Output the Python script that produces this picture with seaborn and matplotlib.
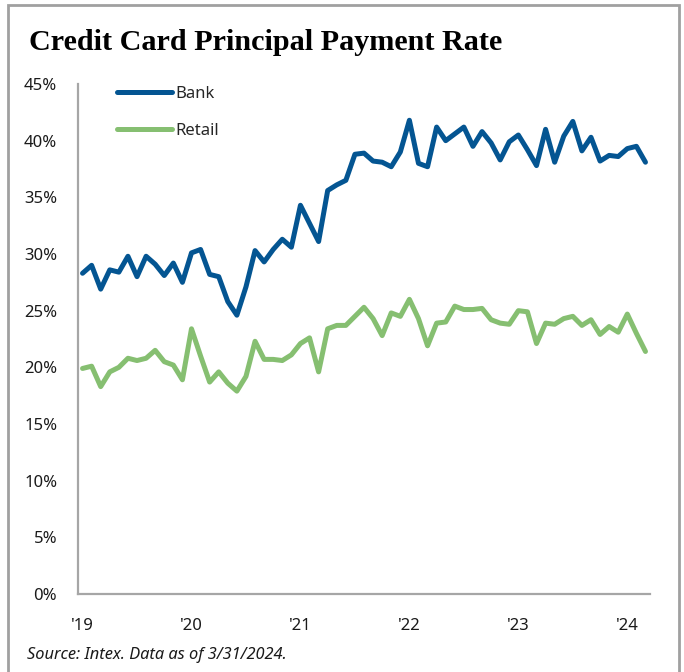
import seaborn as sns
import matplotlib.pyplot as plt
import pandas as pd
from matplotlib.patches import Rectangle

# monthly payment rate (%), Jan 2019 - Mar 2024
bank = [28.3, 29.0, 26.9, 28.6, 28.4, 29.8, 28.0, 29.8, 29.1, 28.1, 29.2, 27.5,
        30.1, 30.4, 28.2, 28.0, 25.8, 24.6, 27.1, 30.3, 29.3, 30.4, 31.3, 30.6,
        34.3, 32.7, 31.1, 35.6, 36.1, 36.5, 38.8, 38.9, 38.2, 38.1, 37.7, 39.0,
        41.8, 38.0, 37.7, 41.2, 40.0, 40.6, 41.2, 39.5, 40.8, 39.8, 38.3, 39.9,
        40.5, 39.2, 37.8, 41.0, 38.1, 40.4, 41.7, 39.1, 40.3, 38.2, 38.7, 38.6,
        39.3, 39.5, 38.1]
retail = [19.9, 20.1, 18.3, 19.6, 20.0, 20.8, 20.6, 20.8, 21.5, 20.5, 20.2, 18.9,
          23.4, 21.0, 18.7, 19.6, 18.6, 17.9, 19.2, 22.3, 20.7, 20.7, 20.6, 21.1,
          22.1, 22.6, 19.6, 23.4, 23.7, 23.7, 24.5, 25.3, 24.3, 22.8, 24.8, 24.5,
          26.0, 24.3, 21.9, 23.9, 24.0, 25.4, 25.1, 25.1, 25.2, 24.2, 23.9, 23.8,
          25.0, 24.9, 22.1, 23.9, 23.8, 24.3, 24.5, 23.7, 24.2, 22.9, 23.6, 23.1,
          24.7, 23.0, 21.4]
year_labels = ["'19", "'20", "'21", "'22", "'23", "'24"]
yticks = [0, 5, 10, 15, 20, 25, 30, 35, 40, 45]

months = list(range(len(bank)))
df = pd.DataFrame({
    'month': months * 2,
    'rate': bank + retail,
    'series': ['Bank'] * len(bank) + ['Retail'] * len(retail),
})

sns.set_style('white')
plt.rcParams['font.family'] = ['Noto Sans', 'DejaVu Sans']

fig = plt.figure(figsize=(6.84, 6.72), dpi=100)
ax = fig.add_axes([78 / 684, 1 - 594 / 672, 572 / 684, 510 / 672])

sns.lineplot(data=df, x='month', y='rate', hue='series',
             palette={'Bank': '#045592', 'Retail': '#86BF71'},
             linewidth=3.6, ax=ax, legend=True)
for ln in ax.lines:
    ln.set_solid_joinstyle('round')
    ln.set_solid_capstyle('round')

ax.set_xlim(-0.5, len(bank) - 0.5)
ax.set_ylim(0, 45)
ax.set_xticks(range(0, 61, 12))
ax.set_xticklabels(year_labels)
ax.set_yticks(yticks)
ax.set_yticklabels([f'{v}%' for v in yticks])
ax.tick_params(axis='both', length=0, labelsize=12, colors='#1a1a1a')
ax.tick_params(axis='x', pad=17)
ax.tick_params(axis='y', pad=15)
ax.set_xlabel('')
ax.set_ylabel('')

for s in ['top', 'right']:
    ax.spines[s].set_visible(False)
for s in ['left', 'bottom']:
    ax.spines[s].set_color('#A6A6A6')
    ax.spines[s].set_linewidth(1.6)

leg = ax.legend(loc='upper left', bbox_to_anchor=(110 / 684, 1 - 79 / 672),
                bbox_transform=fig.transFigure, frameon=False,
                fontsize=12, handlelength=3.3, handletextpad=0.25,
                labelspacing=1.3, borderaxespad=0)
for h in leg.get_lines():
    h.set_linewidth(3.6)
    h.set_solid_capstyle('round')

fig.text(29 / 684, 1 - 42 / 672, 'Credit Card Principal Payment Rate',
         family='Liberation Serif', fontweight='bold', fontsize=21.7,
         va='center', ha='left', color='black')
fig.text(27 / 684, 1 - 655 / 672, 'Source: Intex. Data as of 3/31/2024.',
         fontsize=11.8, style='italic', va='center', ha='left', color='#1a1a1a')

fig.patches.append(Rectangle((8 / 684, -0.05), 671 / 684, 1 - 5 / 672 + 0.05,
                             transform=fig.transFigure, fill=False,
                             edgecolor='#A0A0A0', linewidth=2))

fig.savefig('out.png', dpi=100)
